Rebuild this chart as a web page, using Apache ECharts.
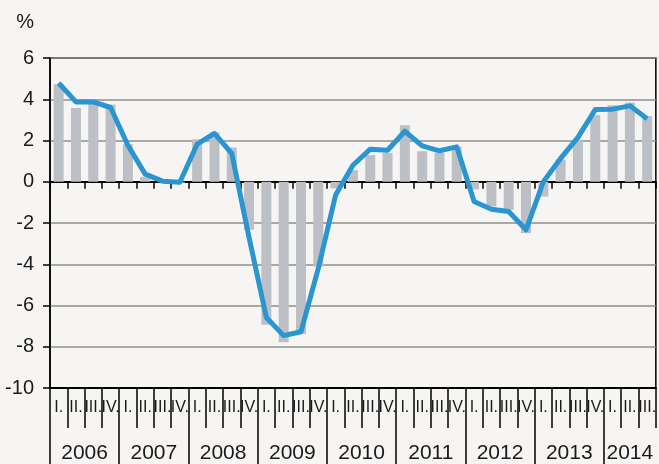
<!DOCTYPE html>
<html>
<head>
<meta charset="utf-8">
<script src="https://cdn.jsdelivr.net/npm/echarts@6/dist/echarts.min.js"></script>
<style>
html,body{margin:0;padding:0;background:#f6f5f3;}
#c{width:659px;height:464px;}
</style>
</head>
<body>
<div id="c"></div>
<script>
const years = ['2006','2007','2008','2009','2010','2011','2012','2013','2014'];
const quarterLabels = ['I.','II.','III.','IV.'];
const barValues = [4.73,3.58,3.9,3.74, 1.82,0.24,0.05,-0.05, 2.06,2.39,1.66,-2.33,
  -6.93,-7.78,-7.38,-4.12, -0.32,0.56,1.29,1.4, 2.74,1.48,1.4,1.7,
  -0.37,-1.2,-1.36,-2.49, -0.72,1.08,2.02,3.23, 3.71,3.84,3.18];
const lineValues = [4.79,3.87,3.87,3.6, 1.77,0.37,0.03,-0.02, 1.82,2.34,1.37,-2.7,
  -6.58,-7.46,-7.27,-4.2, -0.64,0.8,1.58,1.53, 2.45,1.74,1.5,1.69,
  -0.96,-1.33,-1.44,-2.33, 0.0,1.13,2.15,3.5, 3.52,3.68,3.06];
const yTicks = [-10,-8,-6,-4,-2,0,2,4,6];

const categories = [];
for (let i = 0; i < barValues.length; i++) {
  categories.push(years[Math.floor(i/4)] + '-' + quarterLabels[i%4]);
}
const n = categories.length;
const yearTickPos = [];
const yearLabelPos = [];
years.forEach((y, i) => {
  const start = i*4;
  const end = Math.min(start+4, n);
  yearTickPos.push(start);
  yearLabelPos.push((start+end)/2);
});

const FONT = '"Liberation Sans Narrow", "Arial Narrow", "Liberation Sans", Arial, sans-serif';
const FONT_Q = '"Liberation Sans", Arial, sans-serif';
const chart = echarts.init(document.getElementById('c'), null, {renderer:'canvas'});
chart.setOption({
  backgroundColor: '#f6f5f3',
  animation: false,
  grid: {left: 50, top: 58, width: 611, height: 330, show: true,
    borderColor: '#000', borderWidth: 1.5, backgroundColor: 'transparent'},
  yAxis: {
    type: 'value', min: -10, max: 6, interval: 2,
    name: '%', nameLocation: 'end', nameGap: 26,
    nameTextStyle: {fontFamily: FONT, fontSize: 20, color: '#1a1a1a', align: 'right', padding: [0, 16, 0, 0]},
    axisLine: {show: true, lineStyle: {color: '#000', width: 1.5}},
    axisTick: {show: true, length: 7, lineStyle: {color: '#000', width: 1.5}},
    axisLabel: {fontFamily: FONT, fontSize: 20, color: '#1a1a1a', margin: 16,
      customValues: yTicks},
    splitLine: {show: true, lineStyle: {color: '#8e8e8e', width: 1.5}}
  },
  xAxis: [
    {
      type: 'category', data: categories, boundaryGap: true,
      axisLine: {show: true, onZero: true, lineStyle: {color: '#000', width: 2}},
      axisTick: {show: true, length: 7, interval: 0, lineStyle: {color: '#000', width: 1.5}},
      axisLabel: {show: false}, splitLine: {show: false}
    },
    {
      type: 'category', data: categories, boundaryGap: true, position: 'bottom',
      axisLine: {show: true, onZero: false, lineStyle: {color: '#000', width: 2}},
      axisTick: {show: true, length: 40, interval: 0, lineStyle: {color: '#000', width: 1.5}},
      axisLabel: {show: true, interval: 0, margin: 12, fontFamily: FONT_Q, fontSize: 16, color: '#1a1a1a',
        overflow: 'none', hideOverlap: false,
        formatter: v => v.split('-')[1]},
      splitLine: {show: false}
    },
    {
      type: 'value', min: 0, max: n, position: 'bottom',
      axisLine: {show: false, onZero: false},
      axisTick: {show: true, length: 80, customValues: yearTickPos, lineStyle: {color: '#000', width: 1.5}},
      axisLabel: {show: true, margin: 55, fontFamily: FONT, fontSize: 21, color: '#1a1a1a',
        customValues: yearLabelPos,
        formatter: v => years[Math.floor(v/4)]},
      splitLine: {show: false}
    }
  ],
  series: [
    {type: 'bar', xAxisIndex: 0, data: barValues, barWidth: 10,
      itemStyle: {color: '#bcc0c4'}, z: 2},
    {type: 'line', xAxisIndex: 0, data: lineValues, symbol: 'none',
      lineStyle: {color: '#2a95d1', width: 5, join: 'round'}, z: 3}
  ]
});
</script>
</body>
</html>
